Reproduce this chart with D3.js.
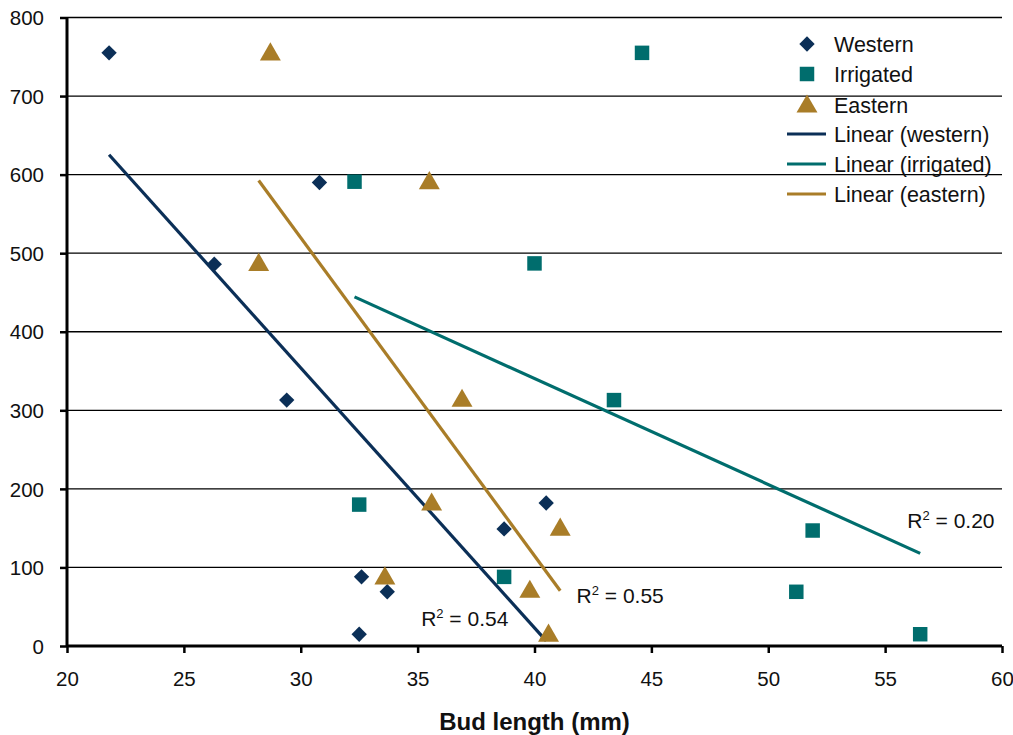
<!DOCTYPE html>
<html>
<head>
<meta charset="utf-8">
<script src="https://cdn.jsdelivr.net/npm/d3@7"></script>
<style>
  html, body { margin: 0; padding: 0; background: #fff; }
  svg { display: block; font-family: "Liberation Sans", Arial, sans-serif; }
</style>
</head>
<body>
<svg id="chart" width="1013" height="735"></svg>
<script>
// ---- Data ----
const westernX = [21.8, 26.3, 30.8, 29.4, 32.6, 33.7, 32.5, 38.7, 40.5];
const westernY = [755, 486, 590, 313, 88, 69, 15, 149, 182];
const irrigatedX = [44.6, 32.3, 40.0, 43.4, 32.5, 38.7, 51.9, 51.2, 56.5];
const irrigatedY = [755, 591, 487, 313, 180, 88, 147, 69, 15];
const easternX = [28.7, 28.2, 35.5, 36.9, 35.6, 33.6, 39.8, 41.1, 40.6];
const easternY = [755, 487, 591, 314, 182, 88, 71, 150, 15];
const xTicks = [20, 25, 30, 35, 40, 45, 50, 55, 60];
const yTicks = [0, 100, 200, 300, 400, 500, 600, 700, 800];
const seriesNames = ["Western", "Irrigated", "Eastern"];
const trendNames = ["Linear (western)", "Linear (irrigated)", "Linear (eastern)"];
const r2Labels = ["0.54", "0.20", "0.55"];
const xTitle = "Bud length (mm)";

const colors = ["#0b2f57", "#006d6d", "#a97d28"];

const svg = d3.select("#chart");
const margin = { left: 67, right: 11, top: 17.5, bottom: 89 };
const W = 1013, H = 735;
const x = d3.scaleLinear().domain([20, 60]).range([margin.left, W - margin.right]);
const y = d3.scaleLinear().domain([0, 800]).range([H - margin.bottom, margin.top]);

// gridlines
svg.append("g").selectAll("line").data(yTicks.filter(d => d > 0)).join("line")
  .attr("x1", x(20)).attr("x2", x(60))
  .attr("y1", d => y(d)).attr("y2", d => y(d))
  .attr("stroke", "#000").attr("stroke-width", 1.3);

// axes
const yAxis = svg.append("g").attr("transform", `translate(${x(20)},0)`)
  .call(d3.axisLeft(y).tickValues(yTicks).tickSize(7).tickPadding(16).tickFormat(d3.format("d")));
const xAxis = svg.append("g").attr("transform", `translate(0,${y(0)})`)
  .call(d3.axisBottom(x).tickValues(xTicks).tickSize(7).tickPadding(18).tickFormat(d3.format("d")));
[yAxis, xAxis].forEach(a => {
  a.select(".domain").attr("stroke", "#000").attr("stroke-width", 3);
  a.selectAll(".tick line").attr("stroke", "#000").attr("stroke-width", 2.5);
  a.selectAll(".tick text").attr("fill", "#111").style("font-size", "20.5px")
    .style("font-family", "'Liberation Sans', Arial, sans-serif");
});
yAxis.select(".domain").attr("d", `M0,${y(0)}V${y(800)}`);
xAxis.select(".domain").attr("d", `M${x(20)},0H${x(60)}`);
yAxis.selectAll(".tick text").attr("dy", "0.35em");

// trend lines (least squares fit)
function fit(xs, ys) {
  const mx = d3.mean(xs), my = d3.mean(ys);
  let sxy = 0, sxx = 0;
  xs.forEach((v, i) => { sxy += (v - mx) * (ys[i] - my); sxx += (v - mx) * (v - mx); });
  const b = sxy / sxx, a = my - b * mx;
  const x0 = d3.min(xs), x1 = d3.max(xs);
  return [[x0, a + b * x0], [x1, a + b * x1]];
}
const sets = [[westernX, westernY], [irrigatedX, irrigatedY], [easternX, easternY]];
const line = d3.line().x(d => x(d[0])).y(d => y(d[1]));
sets.forEach((s, i) => {
  svg.append("path").attr("d", line(fit(s[0], s[1])))
    .attr("fill", "none").attr("stroke", colors[i]).attr("stroke-width", 3.2);
});

// markers
const symW = d3.symbol().type(d3.symbolDiamond2).size(150);
const symI = d3.symbol().type(d3.symbolSquare).size(210);
const symE = d3.symbol().type(d3.symbolTriangle).size(190);
const syms = [symW, symI, symE];
sets.forEach((s, i) => {
  svg.append("g").selectAll("path").data(s[0].map((v, j) => [v, s[1][j]])).join("path")
    .attr("d", syms[i])
    .attr("transform", d => `translate(${x(d[0])},${y(d[1]) + (i === 2 ? 1.5 : 0)})`)
    .attr("fill", colors[i]);
});

// R² labels
const r2Pos = [[x(35.15), y(25)], [x(55.95), y(150)], [x(41.8), y(55)]];
r2Labels.forEach((t, i) => {
  const tx = svg.append("text").attr("x", r2Pos[i][0]).attr("y", r2Pos[i][1])
    .style("font-size", "21px").attr("fill", "#111");
  tx.append("tspan").text("R");
  tx.append("tspan").text("2").style("font-size", "13px").attr("dy", "-8");
  tx.append("tspan").text(" = " + t).attr("dy", "8");
});

// legend
const lg = svg.append("g");
const rowsY = [44, 74, 105, 134, 164, 194];
seriesNames.forEach((n, i) => {
  lg.append("path").attr("d", syms[i])
    .attr("transform", `translate(807,${rowsY[i] + (i === 2 ? 1.5 : 0)})`).attr("fill", colors[i]);
  lg.append("text").attr("x", 834).attr("y", rowsY[i]).attr("dy", "0.36em")
    .style("font-size", "21.5px").attr("fill", "#111").text(n);
});
trendNames.forEach((n, i) => {
  const ry = rowsY[3 + i];
  lg.append("line").attr("x1", 787).attr("x2", 826).attr("y1", ry).attr("y2", ry)
    .attr("stroke", colors[i]).attr("stroke-width", 3.2);
  lg.append("text").attr("x", 834).attr("y", ry).attr("dy", "0.36em")
    .style("font-size", "21.5px").attr("fill", "#111").text(n);
});

// axis title
svg.append("text").attr("x", (x(20) + x(60)) / 2).attr("y", 730)
  .attr("text-anchor", "middle").style("font-size", "24px").style("font-weight", "bold")
  .attr("fill", "#111").text(xTitle);
</script>
</body>
</html>
